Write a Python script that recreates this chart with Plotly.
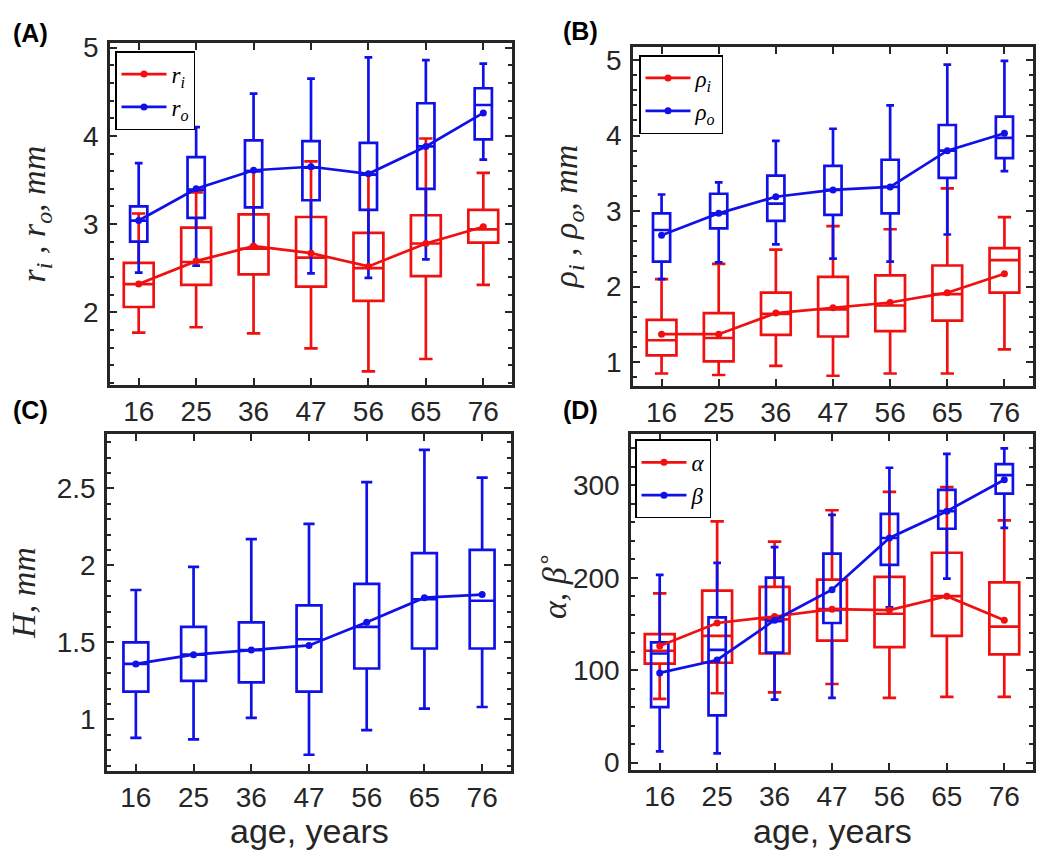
import plotly.graph_objects as go

ages = ["16", "25", "36", "47", "56", "65", "76"]
pos = [1, 2, 3, 4, 5, 6, 7]

# (A) inner / outer radius, mm
ri_low = [1.77, 1.83, 1.76, 1.59, 1.33, 1.47, 2.31]
ri_q1 = [2.06, 2.31, 2.43, 2.29, 2.13, 2.41, 2.79]
ri_med = [2.32, 2.57, 2.72, 2.62, 2.50, 2.78, 2.94]
ri_q3 = [2.56, 2.96, 3.11, 3.08, 2.90, 3.10, 3.16]
ri_high = [3.12, 3.36, 3.60, 3.71, 3.56, 3.97, 3.58]
ri_mean = [2.32, 2.58, 2.75, 2.67, 2.52, 2.78, 2.97]

ro_low = [2.45, 2.53, 2.75, 2.44, 2.39, 2.60, 3.73]
ro_q1 = [2.80, 3.07, 3.19, 3.27, 3.16, 3.40, 3.96]
ro_med = [3.04, 3.39, 3.60, 3.64, 3.56, 3.88, 4.35]
ro_q3 = [3.20, 3.76, 3.95, 3.94, 3.92, 4.37, 4.54]
ro_high = [3.69, 4.10, 4.48, 4.65, 4.89, 4.86, 4.82]
ro_mean = [3.04, 3.40, 3.61, 3.65, 3.57, 3.88, 4.26]

# (B) rho_i / rho_o, mm
pi_low = [0.85, 0.83, 0.95, 0.82, 0.85, 0.85, 1.17]
pi_q1 = [1.09, 1.01, 1.36, 1.34, 1.41, 1.55, 1.92]
pi_med = [1.29, 1.32, 1.64, 1.70, 1.75, 1.90, 2.35]
pi_q3 = [1.56, 1.65, 1.92, 2.13, 2.15, 2.28, 2.51]
pi_high = [2.10, 2.30, 2.49, 2.80, 2.76, 3.30, 2.92]
pi_mean = [1.37, 1.37, 1.65, 1.72, 1.79, 1.92, 2.17]

po_low = [2.10, 2.32, 2.56, 2.37, 2.33, 2.69, 3.53]
po_q1 = [2.33, 2.77, 2.87, 2.95, 2.97, 3.44, 3.70]
po_med = [2.75, 2.97, 3.10, 3.28, 3.32, 3.80, 3.97]
po_q3 = [2.97, 3.23, 3.47, 3.60, 3.68, 4.14, 4.25]
po_high = [3.22, 3.38, 3.93, 4.09, 4.40, 4.94, 4.99]
po_mean = [2.68, 2.97, 3.19, 3.28, 3.32, 3.80, 4.03]

# (C) H, mm
h_low = [0.88, 0.87, 1.01, 0.77, 0.93, 1.07, 1.08]
h_q1 = [1.18, 1.25, 1.24, 1.18, 1.33, 1.46, 1.46]
h_med = [1.36, 1.42, 1.45, 1.52, 1.60, 1.78, 1.77]
h_q3 = [1.50, 1.60, 1.63, 1.74, 1.88, 2.08, 2.10]
h_high = [1.84, 1.99, 2.17, 2.27, 2.54, 2.75, 2.57]
h_mean = [1.36, 1.42, 1.45, 1.48, 1.63, 1.79, 1.81]

# (D) alpha / beta, degrees
a_low = [69, 75, 76, 85, 70, 71, 71]
a_q1 = [107, 108, 118, 132, 125, 137, 117]
a_med = [121, 137, 155, 166, 161, 180, 147]
a_q3 = [139, 186, 190, 198, 201, 227, 195]
a_high = [183, 261, 239, 273, 293, 298, 262]
a_mean = [126, 151, 158, 166, 165, 180, 154]

b_low = [12, 10, 68, 70, 168, 199, 254]
b_q1 = [60, 51, 119, 151, 214, 253, 291]
b_med = [118, 122, 153, 165, 243, 272, 311]
b_q3 = [130, 157, 200, 226, 269, 295, 323]
b_high = [203, 216, 233, 268, 319, 334, 340]
b_mean = [97, 111, 154, 187, 243, 272, 306]

RED = "#f01010"
BLUE = "#1010e8"
AX = "#262626"
W, H = 1050, 864


def px(x):
    return x / W


def py(y):
    return 1 - y / H


fig = go.Figure()


def add_box(xa, ya, low, q1, med, q3, high, color, width):
    fig.add_trace(go.Box(
        x=pos, lowerfence=low, q1=q1, median=med, q3=q3, upperfence=high,
        width=width, whiskerwidth=0.45, boxpoints=False,
        line=dict(color=color, width=2.7), fillcolor="rgba(0,0,0,0)",
        showlegend=False, xaxis=xa, yaxis=ya, hoverinfo="skip"))


def add_mean(xa, ya, mean, color, name, legend):
    fig.add_trace(go.Scatter(
        x=pos, y=mean, mode="lines+markers", name=name,
        line=dict(color=color, width=2.7), marker=dict(color=color, size=7),
        showlegend=legend is not None, legend=legend or "legend",
        xaxis=xa, yaxis=ya))


# panel A
add_box("x", "y", ri_low, ri_q1, ri_med, ri_q3, ri_high, RED, 0.52)
add_box("x", "y", ro_low, ro_q1, ro_med, ro_q3, ro_high, BLUE, 0.3)
add_mean("x", "y", ri_mean, RED, "<i>r<sub>i</sub></i>", "legend")
add_mean("x", "y", ro_mean, BLUE, "<i>r<sub>o</sub></i>", "legend")
# panel B
add_box("x2", "y2", pi_low, pi_q1, pi_med, pi_q3, pi_high, RED, 0.52)
add_box("x2", "y2", po_low, po_q1, po_med, po_q3, po_high, BLUE, 0.3)
add_mean("x2", "y2", pi_mean, RED, "<i>ρ<sub>i</sub></i>", "legend2")
add_mean("x2", "y2", po_mean, BLUE, "<i>ρ<sub>o</sub></i>", "legend2")
# panel C
add_box("x3", "y3", h_low, h_q1, h_med, h_q3, h_high, BLUE, 0.43)
add_mean("x3", "y3", h_mean, BLUE, "H", None)
# panel D
add_box("x4", "y4", a_low, a_q1, a_med, a_q3, a_high, RED, 0.52)
add_box("x4", "y4", b_low, b_q1, b_med, b_q3, b_high, BLUE, 0.3)
add_mean("x4", "y4", a_mean, RED, "<i>α</i>", "legend3")
add_mean("x4", "y4", b_mean, BLUE, "<i>β</i>", "legend3")

tickfont = dict(family="Liberation Sans, Arial", size=28, color=AX)


def xaxis(domain, anchor):
    return dict(domain=domain, anchor=anchor, range=[0.5, 7.5],
                tickvals=pos, ticktext=ages, ticks="inside", ticklen=7,
                tickwidth=2, tickcolor=AX, showline=True, linecolor=AX,
                linewidth=2.5, mirror="ticks", showgrid=False, zeroline=False,
                tickfont=tickfont)


def yaxis(domain, anchor, rng, vals, texts, minor):
    return dict(domain=domain, anchor=anchor, range=rng, tickvals=vals,
                ticktext=texts, ticks="inside", ticklen=7, tickwidth=2,
                tickcolor=AX, showline=True, linecolor=AX, linewidth=2.5,
                mirror="ticks", showgrid=False, zeroline=False,
                tickfont=tickfont, ticklabelstandoff=3,
                minor=dict(ticks="inside", dtick=minor, ticklen=4,
                           tickwidth=1.5, tickcolor=AX, showgrid=False))


legend_style = dict(font=dict(family="Liberation Serif", size=23, color="black"),
                    bordercolor="black", borderwidth=1.5, bgcolor="white",
                    xanchor="left", yanchor="top", itemwidth=45,
                    tracegroupgap=0, itemclick=False)

fig.update_layout(
    width=W, height=H, margin=dict(l=0, r=0, t=0, b=0),
    paper_bgcolor="white", plot_bgcolor="white", boxmode="overlay",
    xaxis=xaxis([px(110), px(512)], "y"),
    yaxis=yaxis([py(382), py(33)], "x", [1.18, 5.05], [2, 3, 4, 5],
                ["2", "3", "4", "5"], 0.2),
    xaxis2=xaxis([px(633), px(1033)], "y2"),
    yaxis2=yaxis([py(383), py(37)], "x2", [0.69, 5.17], [1, 2, 3, 4, 5],
                 ["1", "2", "3", "4", "5"], 0.2),
    xaxis3=xaxis([px(107), px(511)], "y3"),
    yaxis3=yaxis([py(777), py(433)], "x3", [0.665, 2.85], [1, 1.5, 2, 2.5],
                 ["1", "1.5", "2", "2.5"], 0.1),
    xaxis4=xaxis([px(631), px(1033)], "y4"),
    yaxis4=yaxis([py(776), py(433)], "x4", [-8, 355], [0, 100, 200, 300],
                 ["0", "100", "200", "300"], 20),
    legend=dict(x=px(115), y=py(41), **legend_style),
    legend2=dict(x=px(639), y=py(45), **legend_style),
    legend3=dict(x=px(635), y=py(438), **legend_style),
)

ytitle = dict(family="Liberation Serif", size=34, color=AX)
sans = dict(family="Liberation Sans, Arial", size=34, color=AX)
label = dict(family="Liberation Sans, Arial", size=25, color="black")

annots = [
    ("<b>(A)</b>", 30, 22, label, 0),
    ("<b>(B)</b>", 580, 20, label, 0),
    ("<b>(C)</b>", 30, 408, label, 0),
    ("<b>(D)</b>", 580, 408, label, 0),
    ("<i>r<sub>i</sub> , r<sub>o</sub>, mm</i>", 36, 208, ytitle, -90),
    ("<i>ρ<sub>i</sub> , ρ<sub>o</sub>, mm</i>", 568, 210, ytitle, -90),
    ("<i>H, mm</i>", 24, 595, ytitle, -90),
    ("<i>α, β</i><sup>∘</sup>", 552, 588, ytitle, -90),
    ("age, years", 309, 838, sans, 0),
    ("age, years", 832, 838, sans, 0),
]
for text, x, y, font, ang in annots:
    fig.add_annotation(text=text, x=px(x), y=py(y), xref="paper", yref="paper",
                       showarrow=False, font=font, textangle=ang,
                       xanchor="center", yanchor="middle")

# drop the page's default body margin so the figure sits at the window corner
fig.write_html("out.html", config={"displayModeBar": False},
               post_script="document.body.style.margin='0';"
                           "document.body.style.overflow='hidden';")
